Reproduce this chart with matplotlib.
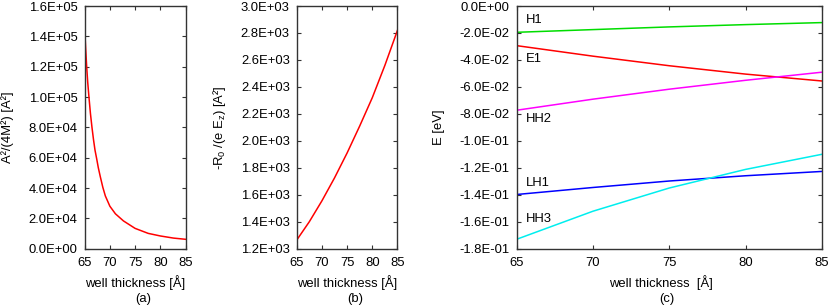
import matplotlib
matplotlib.use("Agg")
import matplotlib.pyplot as plt
from matplotlib.ticker import FuncFormatter, MultipleLocator

plt.rcParams['font.family'] = ['Liberation Sans', 'DejaVu Sans']
plt.rcParams['mathtext.fontset'] = 'custom'
plt.rcParams['mathtext.rm'] = 'Liberation Sans'
plt.rcParams['mathtext.it'] = 'Liberation Sans'

# (a) A^2/(4M^2)
thick_a = [65.0, 65.2, 65.4, 65.6, 65.85, 66.15, 66.45, 66.75, 67.05, 67.4, 67.7, 68.1, 68.6, 69.1,
           70.0, 71.1, 72.7, 75.0, 77.6, 80.0, 82.6, 85.0]
a2_4m2 = [145e3, 132e3, 120e3, 110e3, 100e3, 89e3, 80e3, 72e3, 65e3, 59e3, 53.5e3, 47.5e3, 40.5e3, 34.8e3,
          28.0e3, 23.0e3, 18.3e3, 13.4e3, 10.1e3, 8.4e3, 7.0e3, 6.2e3]

# (b) -R0/(e Ez)
thick_b = [65.0, 67.5, 70.0, 72.5, 75.0, 77.5, 80.0, 82.5, 85.0]
r0_eez = [1264, 1400, 1555, 1725, 1910, 2110, 2320, 2560, 2820]

# (c) subband energies [eV]
thick_c = [65.0, 70.0, 75.0, 80.0, 85.0]
e_h1 = [-0.0195, -0.0175, -0.0155, -0.0138, -0.0123]
e_e1 = [-0.0294, -0.0372, -0.0443, -0.0505, -0.0556]
e_hh2 = [-0.0773, -0.0691, -0.0617, -0.0551, -0.0491]
e_lh1 = [-0.1398, -0.1346, -0.1298, -0.1259, -0.1227]
e_hh3 = [-0.1730, -0.1522, -0.1350, -0.1212, -0.1100]

band_names = ['H1', 'E1', 'HH2', 'LH1', 'HH3']
band_colors = ['#00dd00', '#ff0000', '#ff00ff', '#0000ff', '#00eeee']
label_y = [-0.0104, -0.0396, -0.0840, -0.1310, -0.1580]

fs = 9.4
sci = FuncFormatter(lambda v, p: '%.1E' % (0.0 if abs(v) < 1e-12 else v))


def style_axes(ax):
    for s in ax.spines.values():
        s.set_color('#333333')
        s.set_linewidth(1.0)
    ax.tick_params(direction='in', length=3, width=0.8, color='#333333',
                   top=True, right=True, labelsize=fs, pad=5)
    ax.tick_params(axis='x', pad=6)
    ax.set_xlim(65, 85)
    ax.xaxis.set_major_locator(MultipleLocator(5))
    ax.yaxis.set_major_formatter(sci)


fig = plt.figure(figsize=(8.3, 3.05), dpi=100)
ax1 = fig.add_axes([0.1020, 0.1846, 0.1215, 0.7957])
ax2 = fig.add_axes([0.3575, 0.1846, 0.1214, 0.7957])
ax3 = fig.add_axes([0.6225, 0.1846, 0.3676, 0.7957])

ax1.plot(thick_a, a2_4m2, color='#ff0000', lw=1.1)
style_axes(ax1)
ax1.set_ylim(0, 1.6e5)
ax1.yaxis.set_major_locator(MultipleLocator(2e4))
ax1.set_ylabel('A²/(4M²) [A²]', fontsize=fs)
ax1.yaxis.set_label_coords(-0.70, 0.5)

ax2.plot(thick_b, r0_eez, color='#ff0000', lw=1.1)
style_axes(ax2)
ax2.set_ylim(1200, 3000)
ax2.yaxis.set_major_locator(MultipleLocator(200))
ax2.set_ylabel('-R$_0$ /(e E$_z$) [A²]', fontsize=fs)
ax2.yaxis.set_label_coords(-0.68, 0.5)

for ys, c in zip([e_h1, e_e1, e_hh2, e_lh1, e_hh3], band_colors):
    ax3.plot(thick_c, ys, color=c, lw=1.1)
for name, yl in zip(band_names, label_y):
    ax3.text(65.6, yl, name, fontsize=fs, va='center', ha='left')
style_axes(ax3)
ax3.set_ylim(-0.18, 0.0)
ax3.yaxis.set_major_locator(MultipleLocator(0.02))
ax3.set_ylabel('E [eV]', fontsize=fs)
ax3.yaxis.set_label_coords(-0.235, 0.5)

# x labels and panel captions
fig.text(135 / 830, 1 - 283 / 305, 'well thickness [Å]', fontsize=fs, ha='center', va='center')
fig.text(347.5 / 830, 1 - 283 / 305, 'well thickness [Å]', fontsize=fs, ha='center', va='center')
fig.text(660.5 / 830, 1 - 283 / 305, 'well thickness  [Å]', fontsize=fs, ha='center', va='center')
fig.text(143 / 830, 1 - 299 / 305, '(a)', fontsize=fs, ha='center', va='center')
fig.text(355 / 830, 1 - 299 / 305, '(b)', fontsize=fs, ha='center', va='center')
fig.text(667 / 830, 1 - 299 / 305, '(c)', fontsize=fs, ha='center', va='center')

fig.savefig('out.png', dpi=100)
